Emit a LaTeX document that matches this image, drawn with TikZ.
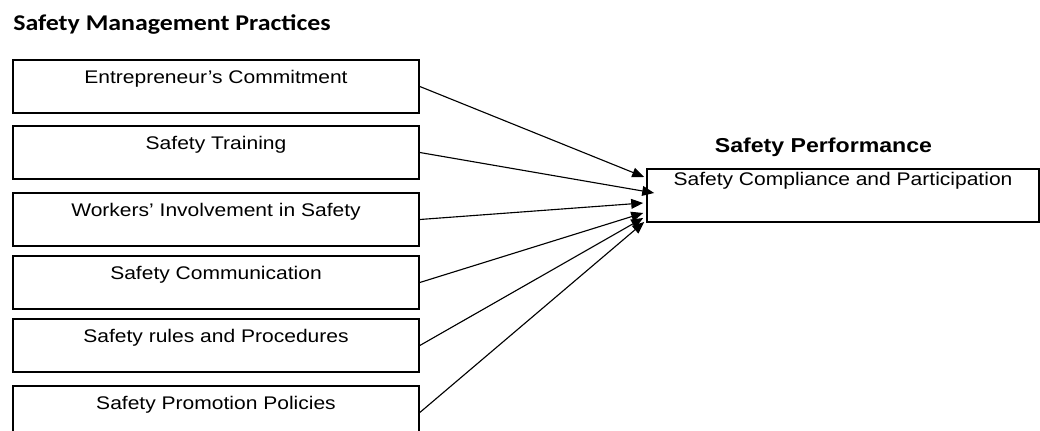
\documentclass[tikz,border=0pt]{standalone}
\usepackage{fontspec}
\setmainfont{Liberation Sans}
\newfontfamily\titlefont{Carlito}
\usepackage{graphicx}
\usetikzlibrary{arrows.meta}
\tikzset{>={Triangle[length=8.5pt,width=7pt]}}
\tikzset{
  practice/.style={draw, line width=1.1pt, minimum width=10.15cm, inner xsep=0pt, inner ysep=0pt,
    text height=16.6pt, text depth=20.9pt, font=\fontsize{13}{15}\selectfont},
  outcome/.style={draw, line width=1.1pt, minimum width=9.8cm, inner xsep=0pt, inner ysep=0pt,
    text height=11.3pt, text depth=26.2pt, font=\fontsize{13}{15}\selectfont},
  link/.style={->, line width=0.8pt}
}
\newcommand{\wide}[1]{\scalebox{1.15}[1]{#1}}

\begin{document}
\begin{tikzpicture}[x=0.025cm,y=-0.025cm]
\useasboundingbox (0,0) rectangle (1040,431);

%Headings
\node [anchor=base west, inner sep=0pt] (practices) at (13,31) {\titlefont\bfseries\fontsize{16}{19}\selectfont\wide{Safety Management Practices}};
\node [anchor=base, inner sep=0pt] (performance) at (823.5,153) {\bfseries\fontsize{14.3}{17}\selectfont\wide{Safety Performance}};

%Left boxes
\node [practice] (commit) at (216,86.5) {\wide{Entrepreneur's Commitment}};
\node [practice] (training) at (216,152.5) {\wide{Safety Training}};
\node [practice] (involve) at (216,219.5) {\wide{Workers' Involvement in Safety}};
\node [practice] (communic) at (216,282.5) {\wide{Safety Communication}};
\node [practice] (rules) at (216,345.5) {\wide{Safety rules and Procedures}};
\node [practice] (promotion) at (216,412.5) {\wide{Safety Promotion Policies}};

%Right box
\node [outcome] (compliance) at (843,195.5) {\wide{Safety Compliance and Participation}};

%Arrows
\draw [link] (commit.east) -- ([shift={(-2,-18.5)}]compliance.west);
\draw [link] (training.east) -- ([shift={(8,-2.5)}]compliance.west);
\draw [link] (involve.east) -- ([shift={(-3,7.5)}]compliance.west);
\draw [link] (communic.east) -- ([shift={(-3,17.5)}]compliance.west);
\draw [link] (rules.east) -- ([shift={(-3,22.5)}]compliance.west);
\draw [link] (promotion.east) -- ([shift={(-2,26.5)}]compliance.west);

\end{tikzpicture}
\end{document}
